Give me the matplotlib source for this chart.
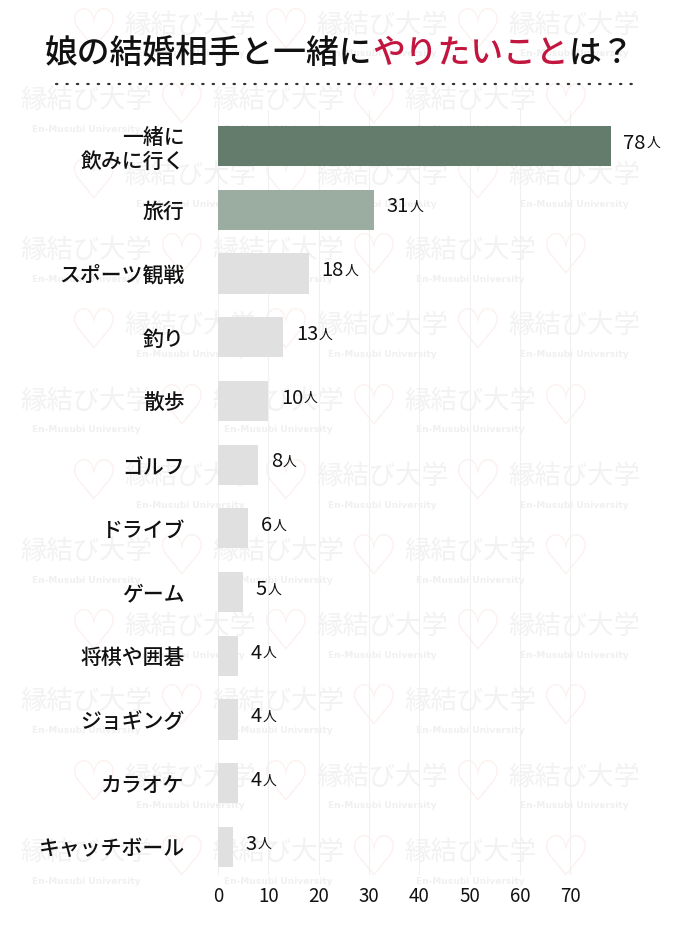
import numpy as np
import matplotlib
matplotlib.use("Agg")
import matplotlib.pyplot as plt

plt.rcParams['font.family'] = ['Noto Sans CJK JP', 'DejaVu Sans']

# data
categories = ["一緒に\n飲みに行く", "旅行", "スポーツ観戦", "釣り", "散歩", "ゴルフ",
              "ドライブ", "ゲーム", "将棋や囲碁", "ジョギング", "カラオケ", "キャッチボール"]
counts = [78, 31, 18, 13, 10, 8, 6, 5, 4, 4, 4, 3]
bar_colors = ["#637c6b", "#9bada0"] + ["#e0e0e0"] * 10
xticks = [0, 10, 20, 30, 40, 50, 60, 70]

W, H = 690, 942
fig = plt.figure(figsize=(W / 100, H / 100), dpi=100)
fig.patch.set_facecolor("white")

# faint watermark tiles (only those that fit inside the canvas)
for r in range(13):
    y = 25 + 75.2 * r
    off = -2 if r % 2 == 0 else 86
    for c in range(-1, 5):
        x = off + 192 * c
        if 64 < x < 626 and 14 < y < 905:
            fig.text(x / W, 1 - y / H, "縁結び大学", fontsize=19, color="#f2f2f2",
                     ha="center", va="center", zorder=-5)
            fig.text(x / W, 1 - (y + 29) / H, "En-Musubi University", fontsize=6.5,
                     color="#f0f0f0", ha="center", va="center", weight="bold",
                     family=["DejaVu Sans"], zorder=-5)
        hx = x + 96
        if 22 < hx < 668 and 20 < y < 900:
            fig.text(hx / W, 1 - (y + 8) / H, "♡", fontsize=40, color="#fbf1ee",
                     ha="center", va="center", family=["DejaVu Sans"], zorder=-5)

# title, with the middle part in red
t1 = fig.text(45 / W, 1 - 53 / H, "娘の結婚相手と一緒に", fontsize=23.6, weight="medium",
              color="#111111", ha="left", va="center")
t2 = fig.text(0, 0, "やりたいこと", fontsize=23.6, weight="medium", color="#c2163f",
              ha="left", va="center")
t3 = fig.text(0, 0, "は？", fontsize=23.6, weight="medium", color="#111111",
              ha="left", va="center")
fig.canvas.draw()
r = fig.canvas.get_renderer()
bb1 = t1.get_window_extent(r)
t2.set_position((bb1.x1 / W, 1 - 53 / H))
bb2 = t2.get_window_extent(r)
t3.set_position((bb2.x1 / W, 1 - 53 / H))

# dotted divider
fig.add_artist(plt.Line2D([56 / W, 634 / W], [1 - 84 / H, 1 - 84 / H],
                          transform=fig.transFigure, color="#333333", lw=1.6,
                          linestyle=(0, (0.6, 4.1)), dash_capstyle="round"))

ax = fig.add_axes([218 / W, 67 / H, 428 / W, 765 / H])
ax.patch.set_alpha(0)
ypos = np.arange(len(categories))
ax.barh(ypos, counts, height=0.63, color=bar_colors, zorder=2)
ax.set_xlim(0, 85)
ax.set_ylim(11.44, -0.565)
ax.set_xticks(xticks)
ax.set_xticklabels([str(v) for v in xticks], fontsize=13.5, color="#111111")
ax.set_yticks(ypos)
ax.set_yticklabels(categories, fontsize=15, weight="medium", color="#111111",
                   linespacing=1.15)
ax.tick_params(axis="y", length=0, pad=24)
ax.tick_params(axis="x", length=0, pad=8)
for s in ax.spines.values():
    s.set_visible(False)
ax.grid(axis="x", color="#f0f0f0", lw=0.8, zorder=0)

for i, v in enumerate(counts):
    num = ax.annotate(str(v), xy=(v, i), xytext=(9, 2), textcoords="offset points",
                      ha="left", va="center", fontsize=14.5, color="#111111")
    ax.annotate("人", xy=(1, 0), xycoords=num, xytext=(0.5, 2.5),
                textcoords="offset points", ha="left", va="bottom",
                fontsize=10, color="#111111")

fig.savefig("out.png", dpi=100)
